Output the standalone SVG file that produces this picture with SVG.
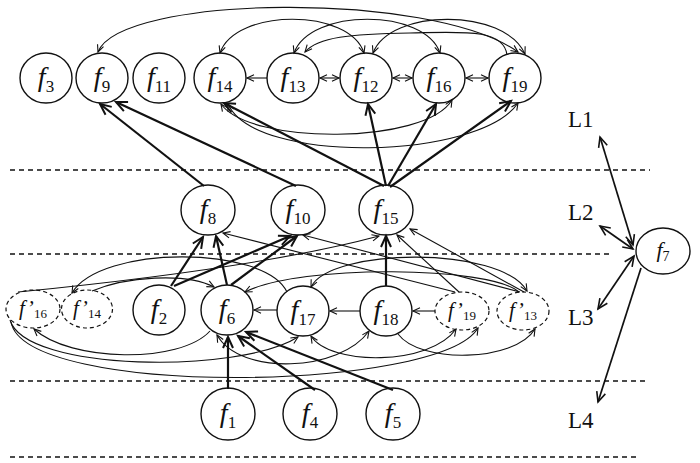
<svg xmlns="http://www.w3.org/2000/svg" width="700" height="463" viewBox="0 0 700 463">
<style>
.n{fill:none;stroke:#111;stroke-width:1.4}
.d{fill:none;stroke:#111;stroke-width:1.2;stroke-dasharray:4 3}
.hl{fill:none;stroke:#111;stroke-width:1.3;stroke-dasharray:5 4}
.t{font-family:"Liberation Serif",serif;font-size:28px;font-style:italic;text-anchor:middle;fill:#111}
.s{font-style:normal;font-size:17px}
.tp{font-family:"Liberation Serif",serif;font-size:21px;font-style:italic;text-anchor:middle;fill:#111}
.sp{font-style:normal;font-size:13px}
.lb{font-family:"Liberation Serif",serif;font-size:23px;fill:#111}
.thin{fill:none;stroke:#111;stroke-width:1.1}
.thick{fill:none;stroke:#111;stroke-width:2.2}
.mid{fill:none;stroke:#111;stroke-width:1.7}
.ta{marker-end:url(#at)}
.tb{marker-start:url(#at);marker-end:url(#at)}
.ka{marker-end:url(#ak)}
.ma{marker-end:url(#am)}
.mb{marker-start:url(#am);marker-end:url(#am)}
</style>
<defs>
<marker id="at" markerUnits="userSpaceOnUse" markerWidth="10" markerHeight="10" refX="7" refY="3.5" orient="auto-start-reverse" overflow="visible"><path d="M0,0.3 L7,3.5 L0,6.7" fill="none" stroke="#111" stroke-width="1.1"/></marker>
<marker id="ak" markerUnits="userSpaceOnUse" markerWidth="14" markerHeight="12" refX="11" refY="5" orient="auto-start-reverse" overflow="visible"><path d="M0,0 L11,5 L0,10" fill="none" stroke="#111" stroke-width="2"/></marker>
<marker id="am" markerUnits="userSpaceOnUse" markerWidth="12" markerHeight="12" refX="10" refY="4.5" orient="auto-start-reverse" overflow="visible"><path d="M0,0 L10,4.5 L0,9" fill="none" stroke="#111" stroke-width="1.6"/></marker>
</defs>

<g id="layers">
<line class="hl" x1="10" y1="170" x2="650" y2="170"/>
<line class="hl" x1="10" y1="254" x2="612" y2="254"/>
<line class="hl" x1="10" y1="381" x2="648" y2="381"/>
<line class="hl" x1="10" y1="457" x2="640" y2="457"/>
<text class="lb" x="568" y="127">L1</text>
<text class="lb" x="568" y="220">L2</text>
<text class="lb" x="568" y="325">L3</text>
<text class="lb" x="568" y="428">L4</text>
</g>

<g id="connectors">
<line class="thin ta" x1="267" y1="78" x2="247" y2="78"/>
<line class="thin tb" x1="320" y1="78" x2="339" y2="78"/>
<line class="thin tb" x1="393" y1="78" x2="412" y2="78"/>
<line class="thin tb" x1="466" y1="78" x2="488" y2="78"/>
<path class="thin tb" d="M98,52 C120,-5 430,-10 518,52"/>
<path class="thin tb" d="M220,53 C235,8 350,8 364,53"/>
<path class="thin tb" d="M294,53 C310,8 425,8 440,53"/>
<path class="thin tb" d="M373,53 C390,8 505,8 525,54"/>
<path class="thin ta" d="M507,55 C504,28 460,32 410,33 C350,34 318,37 305,52"/>
<path class="thin tb" d="M221,104 C250,145 425,145 452,100"/>
<path class="thin tb" d="M228,104 C255,165 480,160 518,103"/>
<line class="thick ka" x1="204" y1="186" x2="100" y2="104"/>
<line class="thick ka" x1="296" y1="186" x2="116" y2="102"/>
<line class="thick ka" x1="384" y1="186" x2="224" y2="103"/>
<line class="thick ka" x1="386" y1="186" x2="368" y2="104"/>
<line class="thick ka" x1="388" y1="186" x2="436" y2="104"/>
<line class="thick ka" x1="390" y1="187" x2="511" y2="101"/>
<line class="thick ka" x1="171" y1="286" x2="203" y2="237"/>
<line class="thick ka" x1="227" y1="285" x2="216" y2="236"/>
<line class="thick ka" x1="174" y1="286" x2="290" y2="236"/>
<line class="thick ka" x1="231" y1="285" x2="297" y2="236"/>
<line class="thick ka" x1="386" y1="286" x2="386" y2="236"/>
<line class="thick ka" x1="228" y1="389" x2="228" y2="337"/>
<line class="thick ka" x1="315" y1="390" x2="238" y2="336"/>
<line class="thick ka" x1="393" y1="390" x2="246" y2="332"/>
<path class="thin ta" d="M18,292 Q260,268 379,236"/>
<line class="thin ta" x1="455" y1="292" x2="223" y2="233"/>
<line class="thin ta" x1="520" y1="292" x2="303" y2="235"/>
<line class="thin ta" x1="459" y1="292" x2="397" y2="235"/>
<line class="thin ta" x1="524" y1="292" x2="410" y2="229"/>
<line class="thin ta" x1="277" y1="310" x2="254" y2="310"/>
<line class="thin ta" x1="360" y1="311" x2="330" y2="311"/>
<line class="thin ta" x1="435" y1="311" x2="413" y2="311"/>
<path class="thin ta" d="M287,292 C265,245 100,245 72,293"/>
<path class="thin ta" d="M92,291 C125,277 185,272 214,287"/>
<path class="thin ta" d="M519,292 C490,266 300,264 245,292"/>
<path class="thin tb" d="M311,287 C330,248 500,245 527,291"/>
<path class="thin ta" d="M210,331 C180,364 70,362 34,329"/>
<path class="thin tb" d="M311,336 C330,366 430,366 456,329"/>
<path class="thin ta" d="M10,320 C25,372 240,374 298,337"/>
<path class="thin ta" d="M11,322 C25,398 440,392 478,328"/>
<path class="thin tb" d="M217,335 C240,376 340,372 369,331"/>
<path class="thin ta" d="M398,334 C420,364 515,362 535,329"/>
<line class="mid mb" x1="600" y1="137" x2="633" y2="245"/>
<line class="mid mb" x1="600" y1="226" x2="633" y2="249"/>
<line class="mid mb" x1="598" y1="309" x2="634" y2="256"/>
<line class="mid ma" x1="641" y1="268" x2="598" y2="402"/>
</g>

<g id="f3"><ellipse class="n" cx="46" cy="78" rx="26" ry="25"/><text class="t" x="46" y="86">f<tspan class="s" dy="6">3</tspan></text></g>
<g id="f9"><ellipse class="n" cx="102" cy="78" rx="26" ry="25"/><text class="t" x="102" y="86">f<tspan class="s" dy="6">9</tspan></text></g>
<g id="f11"><ellipse class="n" cx="159" cy="78" rx="26" ry="25"/><text class="t" x="159" y="86">f<tspan class="s" dy="6">11</tspan></text></g>
<g id="f14"><ellipse class="n" cx="220" cy="78" rx="26" ry="25"/><text class="t" x="220" y="86">f<tspan class="s" dy="6">14</tspan></text></g>
<g id="f13"><ellipse class="n" cx="293" cy="78" rx="26" ry="25"/><text class="t" x="293" y="86">f<tspan class="s" dy="6">13</tspan></text></g>
<g id="f12"><ellipse class="n" cx="366" cy="78" rx="26" ry="25"/><text class="t" x="366" y="86">f<tspan class="s" dy="6">12</tspan></text></g>
<g id="f16"><ellipse class="n" cx="439" cy="78" rx="26" ry="25"/><text class="t" x="439" y="86">f<tspan class="s" dy="6">16</tspan></text></g>
<g id="f19"><ellipse class="n" cx="515" cy="78" rx="26" ry="25"/><text class="t" x="515" y="86">f<tspan class="s" dy="6">19</tspan></text></g>

<g id="f8"><ellipse class="n" cx="208" cy="210" rx="27" ry="25"/><text class="t" x="208" y="218">f<tspan class="s" dy="6">8</tspan></text></g>
<g id="f10"><ellipse class="n" cx="298" cy="210" rx="27" ry="25"/><text class="t" x="298" y="218">f<tspan class="s" dy="6">10</tspan></text></g>
<g id="f15"><ellipse class="n" cx="386" cy="210" rx="27" ry="25"/><text class="t" x="386" y="218">f<tspan class="s" dy="6">15</tspan></text></g>

<g id="fp16"><ellipse class="d" cx="33" cy="309" rx="27" ry="19"/><text class="tp" x="33" y="315">f’<tspan class="sp" dy="3">16</tspan></text></g>
<g id="fp14"><ellipse class="d" cx="87" cy="309" rx="25.5" ry="19"/><text class="tp" x="87" y="315">f’<tspan class="sp" dy="3">14</tspan></text></g>
<g id="f2"><ellipse class="n" cx="159" cy="310" rx="26" ry="25"/><text class="t" x="159" y="318">f<tspan class="s" dy="6">2</tspan></text></g>
<g id="f6"><ellipse class="n" cx="227" cy="310" rx="26" ry="25"/><text class="t" x="227" y="318">f<tspan class="s" dy="6">6</tspan></text></g>
<g id="f17"><ellipse class="n" cx="303" cy="311" rx="26" ry="25"/><text class="t" x="303" y="319">f<tspan class="s" dy="6">17</tspan></text></g>
<g id="f18"><ellipse class="n" cx="386" cy="311" rx="26" ry="25"/><text class="t" x="386" y="319">f<tspan class="s" dy="6">18</tspan></text></g>
<g id="fp19"><ellipse class="d" cx="462" cy="311" rx="27" ry="19"/><text class="tp" x="462" y="317">f’<tspan class="sp" dy="3">19</tspan></text></g>
<g id="fp13"><ellipse class="d" cx="523" cy="311" rx="26" ry="19"/><text class="tp" x="523" y="317">f’<tspan class="sp" dy="3">13</tspan></text></g>

<g id="f1"><ellipse class="n" cx="228" cy="414" rx="27" ry="26"/><text class="t" x="228" y="422">f<tspan class="s" dy="6">1</tspan></text></g>
<g id="f4"><ellipse class="n" cx="310" cy="414" rx="27" ry="26"/><text class="t" x="310" y="422">f<tspan class="s" dy="6">4</tspan></text></g>
<g id="f5"><ellipse class="n" cx="393" cy="414" rx="27" ry="26"/><text class="t" x="393" y="422">f<tspan class="s" dy="6">5</tspan></text></g>

<g id="f7"><ellipse class="n" cx="663" cy="251" rx="27" ry="23"/><text class="t" x="663" y="257" style="font-size:22px">f<tspan class="s" dy="4" style="font-size:14px">7</tspan></text></g>
</svg>
